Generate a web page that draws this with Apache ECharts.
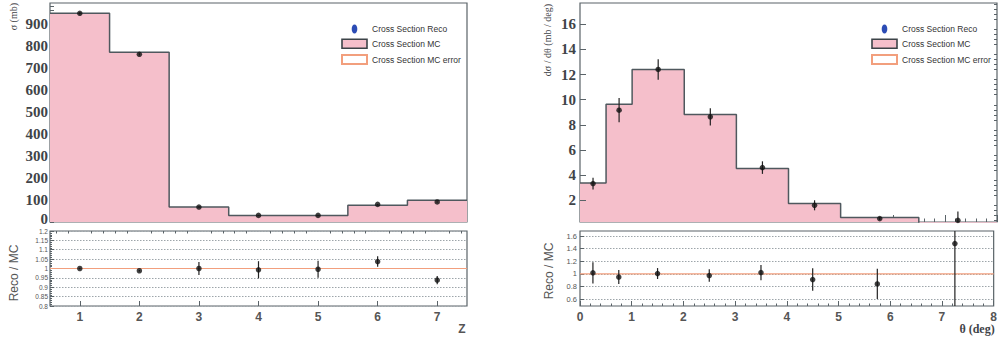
<!DOCTYPE html>
<html>
<head>
<meta charset="utf-8">
<script src="https://cdn.jsdelivr.net/npm/echarts@6/dist/echarts.min.js"></script>
<style>html,body{margin:0;padding:0;background:#fff;}#c{width:1000px;height:338px;}</style>
</head>
<body>
<div id="c"></div>
<script>
// ---------- data: left (Z) ----------
const leftEdges = [0.5, 1.5, 2.5, 3.5, 4.5, 5.5, 6.5, 7.5];
const leftMC = [948, 771, 68, 30, 30, 76, 99];
const leftX = [1, 2, 3, 4, 5, 6, 7];
const leftReco = [948, 762, 68, 30, 30, 80, 91];
const leftRecoErr = [5, 5, 2.4, 1.4, 1.4, 2.2, 2];
const leftRatio = [1.0, 0.988, 1.0, 0.993, 0.996, 1.037, 0.938];
const leftRatioErr = [0.004, 0.004, 0.035, 0.046, 0.045, 0.028, 0.022];
const leftYTicks = [0, 100, 200, 300, 400, 500, 600, 700, 800, 900];
const leftYMinor = [0,20,40,60,80,100,120,140,160,180,200,220,240,260,280,300,320,340,360,380,400,420,440,460,480,500,520,540,560,580,600,620,640,660,680,700,720,740,760,780,800,820,840,860,880,900,920,940,960,980];
const leftXTicks = [1, 2, 3, 4, 5, 6, 7];
const leftXMinor = [0.6,0.8,1.2,1.4,1.6,1.8,2.2,2.4,2.6,2.8,3.2,3.4,3.6,3.8,4.2,4.4,4.6,4.8,5.2,5.4,5.6,5.8,6.2,6.4,6.6,6.8,7.2,7.4];

// ---------- data: right (theta) ----------
const rightEdges = [0, 0.5, 1, 2, 3, 4, 5, 6.5, 8];
const rightMC = [3.38, 9.65, 12.41, 8.83, 4.53, 1.74, 0.62, 0];
const rightX = [0.25, 0.75, 1.5, 2.5, 3.5, 4.5, 5.75, 7.25];
const rightReco = [3.33, 9.17, 12.41, 8.64, 4.6, 1.6, 0.54, 0.4];
const rightRecoErr = [0.47, 0.96, 0.82, 0.69, 0.5, 0.4, 0.12, 0.7];
const rightRatio = [1.016, 0.95, 1.005, 0.973, 1.02, 0.91, 0.84, 1.48];
const rightRatioErr = [0.17, 0.11, 0.087, 0.1, 0.12, 0.18, 0.24, 1.5];
const rightYTicks = [2, 4, 6, 8, 10, 12, 14, 16];
const rightYMinor = [0.4,0.8,1.2,1.6,2.4,2.8,3.2,3.6,4.4,4.8,5.2,5.6,6.4,6.8,7.2,7.6,8.4,8.8,9.2,9.6,10.4,10.8,11.2,11.6,12.4,12.8,13.2,13.6,14.4,14.8,15.2,15.6,16.4,16.8,17.2,17.6];
const rightRatioTicks = [0.6, 0.8, 1, 1.2, 1.4, 1.6];
const ratioRef = 1; // MC / MC

const names = {reco: 'Cross Section Reco', mc: 'Cross Section MC', err: 'Cross Section MC error'};

const FILL = '#f5bfcb', EDGE = '#4f585e', FRAME = '#5a6368', SALMON = '#f29f7d', GRID = '#9da5aa';
const TXT = '#3f4448';

function histData(edges, vals) { return edges.map((e, i) => [e, vals[Math.min(i, vals.length - 1)]]); }
function pts(xs, ys, es) { return xs.map((x, i) => [x, ys[i], es[i]]); }
function errRender(params, api) {
  const x = api.value(0), y = api.value(1), e = api.value(2);
  const p1 = api.coord([x, y + e]), p2 = api.coord([x, y - e]);
  const cs = params.coordSys;
  const clamp = v => Math.max(cs.y, Math.min(cs.y + cs.height, v));
  return {type: 'line', shape: {x1: p1[0], y1: clamp(p1[1]), x2: p2[0], y2: clamp(p2[1])},
          style: {stroke: '#222', lineWidth: 1.2}};
}

const serifFont = {fontFamily: 'Liberation Serif', fontWeight: 'bold', fontSize: 15, color: TXT};
const serifLbl = Object.assign({}, serifFont);
const gridBase = {show: true, borderColor: FRAME, borderWidth: 1.2, backgroundColor: 'transparent'};

function histSeries(x, y, edges, vals) {
  return {type: 'line', name: names.mc, xAxisIndex: x, yAxisIndex: y, step: 'end', symbol: 'none',
    data: histData(edges, vals), lineStyle: {color: EDGE, width: 1.5}, itemStyle: {color: FILL},
    areaStyle: {color: FILL, opacity: 1, origin: 'start'}, silent: true, clip: true, z: 2};
}
function errSeries(x, y, data, nm) {
  return {type: 'custom', name: nm, xAxisIndex: x, yAxisIndex: y, renderItem: errRender,
    encode: {x: 0, y: 1}, data: data, z: 3, silent: true};
}
function ptSeries(x, y, data, nm) {
  return {type: 'scatter', name: nm, xAxisIndex: x, yAxisIndex: y, data: data.map(d => [d[0], d[1]]),
    symbolSize: 5.5, itemStyle: {color: '#111'}, z: 4, silent: true};
}
function refSeries(x, y, edges) {
  return {type: 'line', name: names.err, xAxisIndex: x, yAxisIndex: y, symbol: 'none',
    data: edges.map(e => [e, ratioRef]), lineStyle: {color: SALMON, width: 1.2}, itemStyle: {color: SALMON}, z: 2, silent: true};
}

const legendItems = [
  {name: names.reco, icon: 'path://M5,0C2.2,0,0,3.6,0,8C0,12.4,2.2,16,5,16C7.8,16,10,12.4,10,8C10,3.6,7.8,0,5,0Z', itemStyle: {color: '#2c4cb5', borderWidth: 0}},
  {name: names.mc, icon: 'rect', itemStyle: {color: FILL, borderColor: '#3c4348', borderWidth: 1.6}},
  {name: names.err, icon: 'rect', itemStyle: {color: '#fff', borderColor: SALMON, borderWidth: 2}}
];
function legendAt(left) {
  return {orient: 'vertical', left: left, top: 19.5, itemWidth: 25, itemHeight: 9, itemGap: 5,
    selectedMode: false, data: legendItems,
    textStyle: {fontFamily: 'Liberation Sans', fontSize: 8.5, color: '#333', padding: [0, 0, 0, 0]}};
}

const option = {
  animation: false,
  grid: [
    Object.assign({left: 50, top: 3, width: 417, height: 219}, gridBase),
    Object.assign({left: 50, top: 231, width: 417, height: 75}, gridBase),
    Object.assign({left: 580, top: 3, width: 417, height: 219}, gridBase),
    Object.assign({left: 580, top: 231, width: 417, height: 75}, gridBase)
  ],
  legend: [legendAt(336), legendAt(866)],
  xAxis: [
    {gridIndex: 0, type: 'value', min: 0.5, max: 7.5, axisLine: {show: false}, axisTick: {show: false}, axisLabel: {show: false}, splitLine: {show: false}},
    {gridIndex: 1, type: 'value', min: 0.5, max: 7.5, axisLine: {show: false},
      axisTick: {inside: true, length: 5, customValues: leftXTicks, lineStyle: {color: FRAME}},
      axisLabel: {customValues: leftXTicks, margin: 5, fontFamily: 'Liberation Sans', fontWeight: 'bold', fontSize: 12, color: '#555'},
      splitLine: {show: false}},
    {gridIndex: 1, type: 'value', min: 0.5, max: 7.5, axisLine: {show: false},
      axisTick: {inside: true, length: 2.5, customValues: leftXMinor, lineStyle: {color: FRAME}},
      axisLabel: {show: false}, splitLine: {show: false}},
    {gridIndex: 2, type: 'value', min: 0, max: 8, interval: 1, axisLine: {show: false},
      axisTick: {inside: true, length: 7, lineStyle: {color: FRAME}},
      minorTick: {show: true, splitNumber: 5, length: 3.5, lineStyle: {color: FRAME}},
      axisLabel: {show: false}, splitLine: {show: false}},
    {gridIndex: 3, type: 'value', min: 0, max: 8, interval: 1, axisLine: {show: false},
      axisTick: {inside: true, length: 5, lineStyle: {color: FRAME}},
      minorTick: {show: true, splitNumber: 5, length: 2.5, lineStyle: {color: FRAME}},
      axisLabel: {margin: 5, fontFamily: 'Liberation Sans', fontWeight: 'bold', fontSize: 12, color: '#555'},
      splitLine: {show: false}}
  ],
  yAxis: [
    {gridIndex: 0, type: 'value', min: 0, max: 995, axisLine: {show: false},
      axisTick: {inside: true, length: 4, customValues: leftYMinor, lineStyle: {color: FRAME}},
      axisLabel: Object.assign({customValues: leftYTicks, margin: 2,
        formatter: v => (v === 0 ? '{z|0}' : String(v)),
        rich: {z: Object.assign({padding: [0, 0, 7, 0]}, serifFont)}}, serifLbl),
      splitLine: {show: false}},
    {gridIndex: 1, type: 'value', min: 0.8, max: 1.2, interval: 0.05, axisLine: {show: false},
      axisTick: {inside: true, length: 4, lineStyle: {color: FRAME}},
      minorTick: {show: true, splitNumber: 5, length: 2, lineStyle: {color: FRAME}},
      axisLabel: {margin: 2, fontFamily: 'Liberation Sans', fontSize: 6.5, color: '#555', formatter: v => String(+v.toFixed(2))},
      splitLine: {show: true, lineStyle: {color: GRID, type: [1.5, 1.5], width: 1.2}}},
    {gridIndex: 2, type: 'value', min: 0.27, max: 17.7, z: 5, axisLine: {show: false},
      axisTick: {inside: true, length: 6, customValues: rightYTicks, lineStyle: {color: FRAME}},
      axisLabel: Object.assign({customValues: rightYTicks, margin: 4}, serifLbl), splitLine: {show: false}},
    {gridIndex: 2, type: 'value', min: 0.27, max: 17.7, z: 5, axisLine: {show: false},
      axisTick: {inside: true, length: 3, customValues: rightYMinor, lineStyle: {color: FRAME}},
      axisLabel: {show: false}, splitLine: {show: false}},
    {gridIndex: 3, type: 'value', min: 0.49, max: 1.68, axisLine: {show: false},
      axisTick: {inside: true, length: 4, customValues: rightRatioTicks, lineStyle: {color: FRAME}},
      axisLabel: {customValues: rightRatioTicks, margin: 3, fontFamily: 'Liberation Sans', fontSize: 7.5, color: '#555'},
      splitLine: {show: true, lineStyle: {color: GRID, type: [1.5, 1.5], width: 1.2}}}
  ],
  series: [
    histSeries(0, 0, leftEdges, leftMC),
    errSeries(0, 0, pts(leftX, leftReco, leftRecoErr), names.reco),
    ptSeries(0, 0, pts(leftX, leftReco, leftRecoErr), names.reco),
    refSeries(1, 1, leftEdges),
    errSeries(1, 1, pts(leftX, leftRatio, leftRatioErr), names.reco),
    ptSeries(1, 1, pts(leftX, leftRatio, leftRatioErr), names.reco),

    histSeries(3, 2, rightEdges, rightMC),
    errSeries(3, 2, pts(rightX, rightReco, rightRecoErr), names.reco),
    ptSeries(3, 2, pts(rightX, rightReco, rightRecoErr), names.reco),
    refSeries(4, 4, rightEdges),
    errSeries(4, 4, pts(rightX, rightRatio, rightRatioErr), names.reco),
    ptSeries(4, 4, pts(rightX, rightRatio, rightRatioErr), names.reco)
  ],
  graphic: [
    {type: 'text', x: 13, y: 3, rotation: Math.PI / 2, style: {text: 'σ (mb)', fontFamily: 'Liberation Serif', fontSize: 10, fill: TXT, textAlign: 'right', textVerticalAlign: 'middle'}},
    {type: 'text', x: 547, y: 4, rotation: Math.PI / 2, style: {text: 'dσ / dθ (mb / deg)', fontFamily: 'Liberation Serif', fontSize: 10, fill: TXT, textAlign: 'right', textVerticalAlign: 'middle'}},
    {type: 'text', x: 14, y: 273, rotation: Math.PI / 2, style: {text: 'Reco / MC', fontFamily: 'Liberation Sans', fontSize: 12, fill: '#555', textAlign: 'center', textVerticalAlign: 'middle'}},
    {type: 'text', x: 549, y: 271, rotation: Math.PI / 2, style: {text: 'Reco / MC', fontFamily: 'Liberation Sans', fontSize: 12, fill: '#555', textAlign: 'center', textVerticalAlign: 'middle'}},
    {type: 'text', x: 462, y: 329, style: {text: 'Z', fontFamily: 'Liberation Sans', fontWeight: 'bold', fontSize: 12, fill: '#555', textAlign: 'center', textVerticalAlign: 'middle'}},
    {type: 'text', x: 977, y: 329, style: {text: 'θ (deg)', fontFamily: 'Liberation Serif', fontWeight: 'bold', fontSize: 12, fill: TXT, textAlign: 'center', textVerticalAlign: 'middle'}}
  ]
};
const chart = echarts.init(document.getElementById('c'), null, {renderer: 'svg'});
chart.setOption(option);
</script>
</body>
</html>
